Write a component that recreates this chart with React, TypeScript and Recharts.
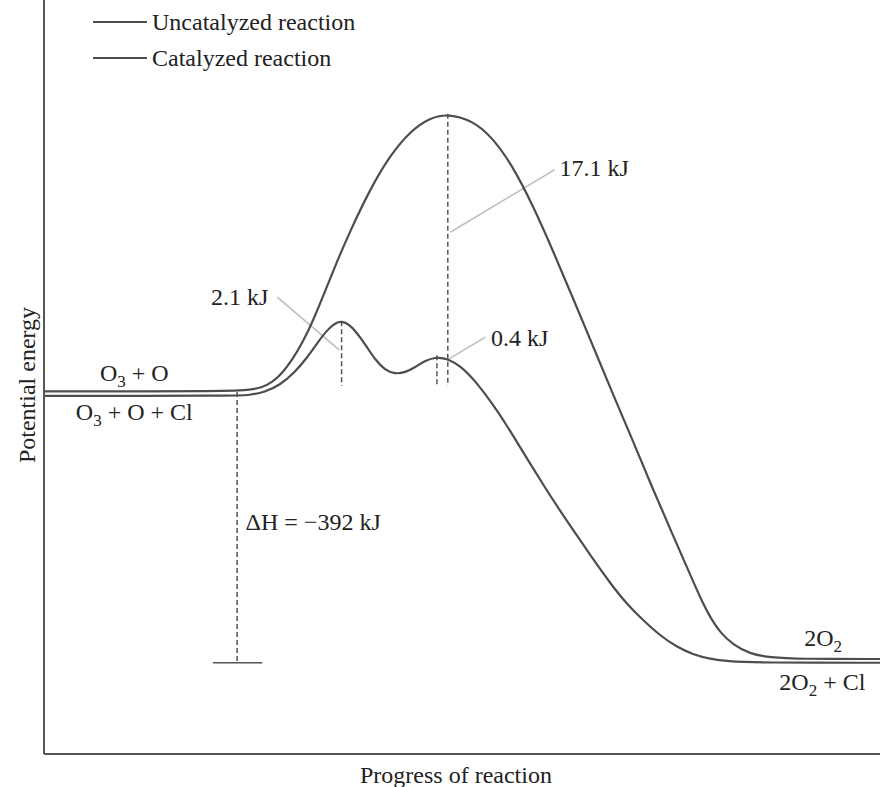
import React from 'react';
import { ComposedChart, Line, Scatter, XAxis, YAxis, ReferenceLine, Legend } from 'recharts';

const FONT = '"Liberation Serif", "Times New Roman", serif';

// Progress of reaction (0-100) and potential energy (arbitrary 0-100 units)
const uncatalyzedProgress = [0, 22.8, 24.6, 26.1, 27.3, 28.5, 29.7, 30.9, 32.2, 33.6, 35.0, 36.6, 39.0, 41.4, 43.8, 46.2, 48.3, 51.3, 53.7, 56.1, 58.5, 60.9, 63.3, 65.7, 68.1, 70.5, 72.8, 75.2, 77.6, 78.8, 79.8, 80.9, 82.4, 84.4, 86.8, 90.4, 100];
const uncatalyzedEnergy = [48.1, 48.1, 48.3, 48.6, 49.3, 50.5, 52.3, 54.5, 57.5, 61.3, 65.2, 69.3, 74.9, 79.4, 82.6, 84.4, 84.9, 84.0, 81.7, 77.9, 72.7, 66.7, 60.4, 54.0, 47.6, 41.4, 35.2, 29.1, 23.0, 20.0, 17.9, 16.1, 14.5, 13.3, 12.8, 12.6, 12.6];

const catalyzedProgress = [0, 22.8, 24.6, 26.4, 28.2, 30.0, 31.5, 32.8, 34.0, 34.9, 35.6, 36.5, 37.4, 38.5, 39.6, 40.8, 42.0, 43.2, 44.4, 45.6, 46.9, 47.5, 48.3, 49.8, 51.6, 54.2, 56.3, 58.1, 59.9, 61.7, 63.8, 65.7, 67.7, 69.7, 71.7, 73.7, 75.7, 77.6, 79.7, 81.7, 85.6, 100];
const catalyzedEnergy = [47.5, 47.5, 47.6, 48.0, 48.9, 50.6, 52.6, 54.7, 56.4, 57.2, 57.4, 57.0, 55.9, 54.2, 52.3, 50.9, 50.4, 50.6, 51.3, 52.2, 52.6, 52.5, 52.4, 51.5, 49.5, 45.6, 41.9, 38.6, 35.4, 32.3, 28.9, 25.8, 22.7, 19.9, 17.7, 15.7, 14.2, 13.2, 12.6, 12.3, 12.1, 12.1];

const seriesNames = ['Uncatalyzed reaction', 'Catalyzed reaction'];

// Guide segments: [x1, y1, x2, y2] in data units
const dashedGuides = [
  [48.3, 84.9, 48.3, 48.8],
  [35.6, 57.4, 35.6, 48.8],
  [47.0, 52.9, 47.0, 48.8],
  [23.1, 48.0, 23.1, 12.1],
];
const deltaHBar = [20.2, 12.1, 26.1, 12.1];
const leaderLines = [
  [48.6, 69.2, 61.1, 77.5],
  [27.9, 60.6, 35.3, 53.6],
  [48.3, 52.3, 52.8, 55.3],
];

// Annotation labels ("_n" marks a subscript)
const labelText = ['O_3 + O', 'O_3 + O + Cl', '2.1 kJ', '0.4 kJ', '17.1 kJ', 'ΔH = −392 kJ', '2O_2', '2O_2 + Cl'];
const labelProgress = [10.8, 10.8, 23.4, 56.9, 65.8, 32.2, 93.2, 93.1];
const labelEnergy = [49.5, 44.3, 59.5, 54.1, 76.7, 29.7, 14.3, 8.5];

const uncatalyzedData = uncatalyzedProgress.map((x, i) => ({ x, y: uncatalyzedEnergy[i] }));
const catalyzedData = catalyzedProgress.map((x, i) => ({ x, y: catalyzedEnergy[i] }));
const labelData = labelText.map((text, i) => ({ x: labelProgress[i], y: labelEnergy[i], text }));

const CURVE = '#4d4d4d';

const LabelShape = (props: any) => {
  const { cx, cy, payload } = props;
  const parts = String(payload.text).split(/_(\d+)/);
  return (
    <text x={cx} y={cy} textAnchor="middle" fontFamily={FONT} fontSize={24} fill="#222" style={{ whiteSpace: 'pre' }}>
      {parts.map((p, i) =>
        i % 2 === 1 ? (
          <tspan key={i} fontSize={17} dy={6}>{p}</tspan>
        ) : (
          <tspan key={i} dy={i > 0 ? -6 : 0}>{p}</tspan>
        )
      )}
    </text>
  );
};

const LegendContent = (props: any) => {
  const items = (props.payload || [])
    .filter((p: any) => p.type !== 'none' && seriesNames.includes(p.value))
    .slice()
    .sort((a: any, b: any) => seriesNames.indexOf(a.value) - seriesNames.indexOf(b.value));
  return (
    <div style={{ fontFamily: FONT, fontSize: 24, color: '#222' }}>
      {items.map((it: any) => (
        <div key={it.value} style={{ display: 'flex', alignItems: 'center', height: 36 }}>
          <svg width={54} height={4} style={{ display: 'block' }}>
            <line x1={0} y1={2} x2={54} y2={2} stroke={it.color} strokeWidth={2} />
          </svg>
          <span style={{ marginLeft: 5, lineHeight: '36px', whiteSpace: 'nowrap' }}>{it.value}</span>
        </div>
      ))}
    </div>
  );
};

const YLabel = (props: any) => {
  const vb = props.viewBox || { x: 0, y: 0, width: 44, height: 754 };
  const cx = vb.x + 35;
  const cy = vb.y + vb.height / 2 + 8;
  return (
    <text x={cx} y={cy} transform={`rotate(-90, ${cx}, ${cy})`} textAnchor="middle" fontFamily={FONT} fontSize={24} fill="#222">
      Potential energy
    </text>
  );
};

const XLabel = (props: any) => {
  const vb = props.viewBox || { x: 44, y: 754, width: 836, height: 33 };
  return (
    <text x={vb.x + vb.width / 2 - 6} y={vb.y + 29} textAnchor="middle" fontFamily={FONT} fontSize={24} fill="#222">
      Progress of reaction
    </text>
  );
};

export default function App() {
  return (
    <div style={{ position: 'absolute', left: 0, top: 0, width: 880, height: 787, background: '#fff' }}>
      <ComposedChart width={880} height={787} margin={{ top: 0, right: 0, bottom: 0, left: 0 }}>
        <XAxis
          type="number"
          dataKey="x"
          domain={[0, 100]}
          allowDataOverflow
          height={33}
          tick={false}
          tickLine={false}
          axisLine={{ stroke: '#555', strokeWidth: 2 }}
          label={{ content: XLabel }}
        />
        <YAxis
          type="number"
          dataKey="y"
          domain={[0, 100]}
          allowDataOverflow
          width={44}
          tick={false}
          tickLine={false}
          axisLine={{ stroke: '#555', strokeWidth: 2 }}
          label={{ content: YLabel }}
        />
        <Legend
          layout="horizontal"
          align="center"
          verticalAlign="middle"
          content={LegendContent}
          wrapperStyle={{ left: 93, top: 4, width: 340, height: 72, margin: 0 }}
        />
        {dashedGuides.map((g, i) => (
          <ReferenceLine
            key={'d' + i}
            segment={[{ x: g[0], y: g[1] }, { x: g[2], y: g[3] }]}
            stroke="#555"
            strokeWidth={1.5}
            strokeDasharray="5 3"
            ifOverflow="visible"
          />
        ))}
        <ReferenceLine
          segment={[{ x: deltaHBar[0], y: deltaHBar[1] }, { x: deltaHBar[2], y: deltaHBar[3] }]}
          stroke="#555"
          strokeWidth={1.5}
          ifOverflow="visible"
        />
        {leaderLines.map((g, i) => (
          <ReferenceLine
            key={'l' + i}
            segment={[{ x: g[0], y: g[1] }, { x: g[2], y: g[3] }]}
            stroke="#bdbdbd"
            strokeWidth={1.5}
            ifOverflow="visible"
          />
        ))}
        <Line
          name={seriesNames[0]}
          data={uncatalyzedData}
          dataKey="y"
          type="basis"
          stroke={CURVE}
          strokeWidth={2.2}
          dot={false}
          activeDot={false}
          isAnimationActive={false}
        />
        <Line
          name={seriesNames[1]}
          data={catalyzedData}
          dataKey="y"
          type="basis"
          stroke={CURVE}
          strokeWidth={2.2}
          dot={false}
          activeDot={false}
          isAnimationActive={false}
        />
        <Scatter
          data={labelData}
          dataKey="y"
          legendType="none"
          shape={LabelShape}
          isAnimationActive={false}
        />
      </ComposedChart>
    </div>
  );
}
